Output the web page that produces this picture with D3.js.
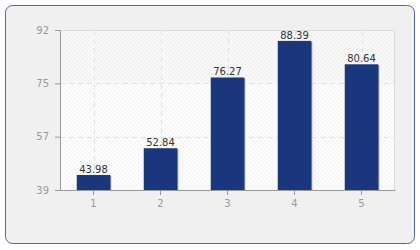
<!DOCTYPE html>
<html>
<head>
<meta charset="utf-8">
<script src="https://cdn.jsdelivr.net/npm/d3@7"></script>
<style>
  body { margin: 0; background: #fff; }
  svg { display: block; font-family: "DejaVu Sans", Verdana, sans-serif; }
</style>
</head>
<body>
<svg id="chart" width="420" height="250"></svg>
<script>
// chart data
const categories = ['1', '2', '3', '4', '5'];
const values = [43.98, 52.84, 76.27, 88.39, 80.64];
const yTickLabels = ['39', '57', '75', '92'];
const yMin = 39, yMax = 92;

const svg = d3.select('#chart');
const margin = { left: 60, right: 25, top: 30, bottom: 60 };
const width = +svg.attr('width');
const height = +svg.attr('height');
const innerwidth = width - margin.left - margin.right;
const innerheight = height - margin.top - margin.bottom;

// Outer panel with rounded corners
svg.append('rect')
    .attr('x', 5.5).attr('y', 5.5)
    .attr('width', 409).attr('height', 238)
    .attr('rx', 7)
    .attr('fill', '#f0f0f0')
    .attr('stroke', '#5566a0')
    .attr('stroke-width', 1);

// Diagonal hatch for the plot background
const defs = svg.append('defs');
const pat = defs.append('pattern')
    .attr('id', 'hatch')
    .attr('patternUnits', 'userSpaceOnUse')
    .attr('width', 4).attr('height', 4);
pat.append('rect').attr('width', 4).attr('height', 4).attr('fill', '#fdfdfd');
pat.append('path')
    .attr('d', 'M-1,1 l2,-2 M0,4 l4,-4 M3,5 l2,-2')
    .attr('stroke', '#f0f0f0')
    .attr('stroke-width', 1);

const g = svg.append('g')
    .attr('transform', `translate(${margin.left},${margin.top})`);

const xScale = d3.scaleBand()
    .domain(categories)
    .range([0, innerwidth]);

const yScale = d3.scaleLinear()
    .domain([yMin, yMax])
    .range([innerheight, 0]);

// Ticks spread evenly over the domain, labelled from the list
const yTickValues = yTickLabels.map((d, i) => yMin + i * (yMax - yMin) / (yTickLabels.length - 1));

// Plot background
g.append('rect')
    .attr('width', innerwidth).attr('height', innerheight)
    .attr('fill', 'url(#hatch)');
g.append('rect')
    .attr('y', 0)
    .attr('width', innerwidth).attr('height', yScale(yTickValues[2]))
    .attr('fill', '#000').attr('opacity', 0.015);

// Border of plot area (top and right)
g.append('path')
    .attr('d', `M0,0.5 H${innerwidth - 0.5} V${innerheight}`)
    .attr('fill', 'none')
    .attr('stroke', '#dcdcdc');

// Grid lines
g.selectAll('line.hgrid')
    .data(yTickValues.slice(1, -1))
    .join('line')
    .attr('class', 'hgrid')
    .attr('x1', 0).attr('x2', innerwidth)
    .attr('y1', d => Math.round(yScale(d)) + 0.5)
    .attr('y2', d => Math.round(yScale(d)) + 0.5)
    .attr('stroke', '#e2e2e2')
    .attr('stroke-dasharray', '5,4');

g.selectAll('line.vgrid')
    .data(categories)
    .join('line')
    .attr('class', 'vgrid')
    .attr('x1', d => Math.round(xScale(d) + xScale.bandwidth() / 2) + 0.5)
    .attr('x2', d => Math.round(xScale(d) + xScale.bandwidth() / 2) + 0.5)
    .attr('y1', 0).attr('y2', innerheight)
    .attr('stroke', '#e2e2e2')
    .attr('stroke-dasharray', '5,4');

// Bars (with a thin shadow on the right)
const barWidth = xScale.bandwidth() * 0.5;
g.selectAll('rect.shadow')
    .data(values)
    .join('rect')
    .attr('class', 'shadow')
    .attr('x', (d, i) => xScale(categories[i]) + (xScale.bandwidth() - barWidth) / 2 + 1)
    .attr('y', d => yScale(d) + 1)
    .attr('width', barWidth)
    .attr('height', d => innerheight - yScale(d) - 1)
    .attr('fill', '#8890a8');

g.selectAll('rect.bar')
    .data(values)
    .join('rect')
    .attr('class', 'bar')
    .attr('x', (d, i) => xScale(categories[i]) + (xScale.bandwidth() - barWidth) / 2)
    .attr('y', d => yScale(d))
    .attr('width', barWidth)
    .attr('height', d => innerheight - yScale(d))
    .attr('fill', '#1a377e');

// Value labels
g.selectAll('text.value')
    .data(values)
    .join('text')
    .attr('class', 'value')
    .attr('x', (d, i) => xScale(categories[i]) + xScale.bandwidth() / 2)
    .attr('y', d => yScale(d) - 2)
    .attr('text-anchor', 'middle')
    .attr('font-size', 10)
    .attr('fill', '#333')
    .text(d => d.toFixed(2));

// Axes
const yAxis = d3.axisLeft(yScale)
    .tickValues(yTickValues)
    .tickFormat((d, i) => yTickLabels[i])
    .tickSize(5)
    .tickSizeOuter(0)
    .tickPadding(6);

const xAxis = d3.axisBottom(xScale)
    .tickSize(5)
    .tickSizeOuter(0)
    .tickPadding(5);

const yAxisG = g.append('g').call(yAxis);
const xAxisG = g.append('g')
    .attr('transform', `translate(0,${innerheight})`)
    .call(xAxis);

[yAxisG, xAxisG].forEach(a => {
    a.select('.domain').attr('stroke', '#999');
    a.selectAll('.tick line').attr('stroke', '#999');
    a.selectAll('.tick text')
        .attr('fill', '#999')
        .attr('font-size', 10)
        .attr('font-family', '"DejaVu Sans", Verdana, sans-serif');
});
yAxisG.attr('font-size', null);
xAxisG.attr('font-size', null);
</script>
</body>
</html>
